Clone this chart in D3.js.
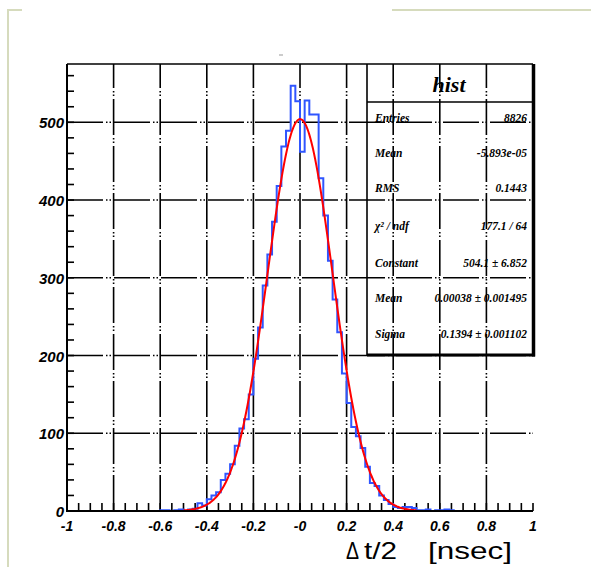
<!DOCTYPE html>
<html>
<head>
<meta charset="utf-8">
<script src="https://cdn.jsdelivr.net/npm/d3@7"></script>
<style>
  html, body { margin: 0; padding: 0; background: #fff; }
  svg { display: block; }
</style>
</head>
<body>
<svg id="chart"></svg>
<script>
const width = 591;
const height = 567;

// histogram: bin lower edges (width 0.02) and counts
const binWidth = 0.02;
const binStart = [-0.6, -0.58, -0.56, -0.54, -0.52, -0.5, -0.48, -0.46, -0.44, -0.42,
  -0.4, -0.38, -0.36, -0.34, -0.32, -0.3, -0.28, -0.26, -0.24, -0.22,
  -0.2, -0.18, -0.16, -0.14, -0.12, -0.1, -0.08, -0.06, -0.04, -0.02,
  0, 0.02, 0.04, 0.06, 0.08, 0.1, 0.12, 0.14, 0.16, 0.18,
  0.2, 0.22, 0.24, 0.26, 0.28, 0.3, 0.32, 0.34, 0.36, 0.38,
  0.4, 0.42, 0.44, 0.46, 0.48, 0.5, 0.52, 0.54, 0.56, 0.58,
  0.6, 0.62, 0.64, 0.66];
const counts = [1, 1, 0, 1, 2, 0, 2, 3, 10, 7,
  15, 20, 24, 40, 48, 60, 84, 106, 118, 150,
  196, 236, 290, 330, 372, 418, 469, 489, 547, 527,
  462, 528, 510, 510, 428, 380, 322, 272, 230, 177,
  139, 108, 96, 81, 57, 36, 32, 20, 14, 9,
  5, 4, 5, 5, 4, 1, 1, 2, 0, 1,
  1, 2, 1, 0];

// gaussian fit parameters (from the stats box)
const fitConstant = 504.1;
const fitMean = 0.00038;
const fitSigma = 0.1394;
const fitRange = [-0.5, 0.5];

// axes
const xTicks = [-1, -0.8, -0.6, -0.4, -0.2, 0, 0.2, 0.4, 0.6, 0.8, 1];
const xTickLabels = ["-1", "-0.8", "-0.6", "-0.4", "-0.2", "-0", "0.2", "0.4", "0.6", "0.8", "1"];
const yTicks = [0, 100, 200, 300, 400, 500];
const yTickLabels = ["0", "100", "200", "300", "400", "500"];

// stats box
const statsTitle = "hist";
const statLabels = ["Entries", "Mean", "RMS", "\u03c7\u00b2 / ndf", "Constant", "Mean", "Sigma"];
const statValues = ["8826", "-5.893e-05", "0.1443", "177.1 / 64", "504.1 \u00b1 6.852", "0.00038 \u00b1 0.001495", "0.1394 \u00b1 0.001102"];

const svg = d3.select("#chart")
  .attr("width", width)
  .attr("height", height)
  .attr("viewBox", `0 0 ${width} ${height}`);

svg.append("rect").attr("width", width).attr("height", height).attr("fill", "#fff");

// page decoration lines
const deco = svg.append("g").attr("stroke", "#d6dbbd").attr("stroke-width", 2).attr("fill", "none");
deco.append("path").attr("d", "M7,10H22M8,10V567");
deco.append("path").attr("d", "M392,10H591");
svg.append("line").attr("x1", 279).attr("x2", 283).attr("y1", 55).attr("y2", 55)
  .attr("stroke", "#999").attr("stroke-width", 1);

const x = d3.scaleLinear().domain([-1, 1]).range([67, 533]);
const y = d3.scaleLinear().domain([0, 575]).range([511, 64]);

// grid
const grid = svg.append("g")
  .attr("stroke", "#000")
  .attr("stroke-width", 1.6)
  .attr("stroke-dasharray", "36,3,1.5,2,1.5,3");
grid.selectAll("line.gx")
  .data(xTicks.slice(1, -1))
  .join("line")
  .attr("class", "gx")
  .attr("x1", d => x(d)).attr("x2", d => x(d))
  .attr("y1", y(0)).attr("y2", y.range()[1]);
grid.selectAll("line.gy")
  .data(yTicks.slice(1))
  .join("line")
  .attr("class", "gy")
  .attr("x1", x(-1)).attr("x2", x(1))
  .attr("y1", d => y(d)).attr("y2", d => y(d));

// minor ticks
const minorX = d3.range(-1, 1.0001, 0.05);
svg.append("g").attr("stroke", "#000").attr("stroke-width", 1.6)
  .selectAll("line")
  .data(minorX)
  .join("line")
  .attr("x1", d => x(d)).attr("x2", d => x(d))
  .attr("y1", y(0)).attr("y2", y(0) - 8);
const minorY = d3.range(0, 575, 20);
svg.append("g").attr("stroke", "#000").attr("stroke-width", 1.6)
  .selectAll("line")
  .data(minorY)
  .join("line")
  .attr("x1", x(-1)).attr("x2", x(-1) + 7)
  .attr("y1", d => y(d)).attr("y2", d => y(d));

// histogram outline
const histPts = [[binStart[0], 0]];
binStart.forEach((b, i) => {
  histPts.push([b, counts[i]]);
  histPts.push([b + binWidth, counts[i]]);
});
histPts.push([binStart[binStart.length - 1] + binWidth, 0]);

const line = d3.line().x(d => x(d[0])).y(d => y(d[1]));
svg.append("path")
  .attr("d", line(histPts))
  .attr("fill", "none")
  .attr("stroke", "#2f55ff")
  .attr("stroke-width", 2);

// fit curve
const fitPts = d3.range(fitRange[0], fitRange[1] + 1e-9, 0.005).map(v =>
  [v, fitConstant * Math.exp(-0.5 * Math.pow((v - fitMean) / fitSigma, 2))]);
svg.append("path")
  .attr("d", d3.line().x(d => x(d[0])).y(d => y(d[1])).curve(d3.curveMonotoneX)(fitPts))
  .attr("fill", "none")
  .attr("stroke", "#ff0000")
  .attr("stroke-width", 2);

// frame
svg.append("path")
  .attr("d", `M${x(-1)},${y.range()[1]}V${y(0)}H${x(1)}`)
  .attr("fill", "none").attr("stroke", "#000").attr("stroke-width", 2);
svg.append("line")
  .attr("x1", x(-1)).attr("x2", x(1))
  .attr("y1", y.range()[1]).attr("y2", y.range()[1])
  .attr("stroke", "#000").attr("stroke-width", 1.5);

// stats box
const bx0 = 367, bx1 = 533, by0 = 64, by1 = 355;
const box = svg.append("g").attr("fill", "none").attr("stroke", "#000");
box.append("line").attr("x1", bx0).attr("x2", bx0).attr("y1", by0).attr("y2", by1).attr("stroke-width", 1.6);
box.append("line").attr("x1", bx0).attr("x2", bx1).attr("y1", 102).attr("y2", 102).attr("stroke-width", 1.6);
box.append("line").attr("x1", bx0).attr("x2", bx1 + 2).attr("y1", by1).attr("y2", by1).attr("stroke-width", 3);
box.append("line").attr("x1", bx1 + 0.5).attr("x2", bx1 + 0.5).attr("y1", by0).attr("y2", by1 + 1.5).attr("stroke-width", 3.5);

svg.append("text")
  .attr("x", 449).attr("y", 92)
  .attr("text-anchor", "middle")
  .attr("font-family", "Liberation Serif")
  .attr("font-style", "italic")
  .attr("font-weight", "bold")
  .attr("font-size", 22)
  .text(statsTitle);

const rowY = [122, 157, 192, 230, 267, 302, 338];
const statText = svg.append("g")
  .attr("font-family", "Liberation Serif")
  .attr("font-style", "italic")
  .attr("font-weight", "bold")
  .attr("font-size", 11.5);
statText.selectAll("text.lab")
  .data(statLabels)
  .join("text")
  .attr("class", "lab")
  .attr("x", 375)
  .attr("y", (d, i) => rowY[i])
  .text(d => d);
statText.selectAll("text.val")
  .data(statValues)
  .join("text")
  .attr("class", "val")
  .attr("x", 527)
  .attr("y", (d, i) => rowY[i])
  .attr("text-anchor", "end")
  .text(d => d);

// tick labels
const tickFont = svg.append("g")
  .attr("font-family", "Liberation Sans")
  .attr("font-style", "italic")
  .attr("font-weight", "bold")
  .attr("fill", "#000");
tickFont.selectAll("text.xl")
  .data(xTicks)
  .join("text")
  .attr("class", "xl")
  .attr("x", d => x(d))
  .attr("y", 531)
  .attr("text-anchor", "middle")
  .attr("font-size", 14)
  .text((d, i) => xTickLabels[i]);
tickFont.selectAll("text.yl")
  .data(yTicks)
  .join("text")
  .attr("class", "yl")
  .attr("x", 64)
  .attr("y", d => y(d) + 6)
  .attr("text-anchor", "end")
  .attr("font-size", 15)
  .text((d, i) => yTickLabels[i]);

// axis title, drawn in three stretched pieces like the original
const titleParts = [
  { t: "\u0394", x: 346, w: 13 },
  { t: "t/2", x: 364, w: 33 },
  { t: "[nsec]", x: 428, w: 84 }
];
svg.append("g")
  .attr("font-family", "Liberation Sans")
  .attr("font-size", 24)
  .selectAll("text")
  .data(titleParts)
  .join("text")
  .attr("x", d => d.x)
  .attr("y", 559)
  .attr("textLength", d => d.w)
  .attr("lengthAdjust", "spacingAndGlyphs")
  .text(d => d.t);
</script>
</body>
</html>
